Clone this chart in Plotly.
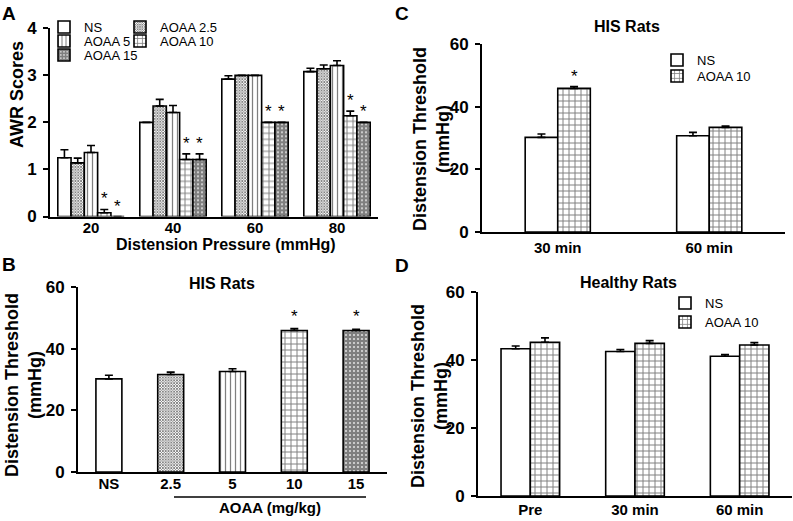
import plotly.graph_objects as go

# ---------------- data ----------------
pressures = ["20", "40", "60", "80"]
groups_a = ["NS", "AOAA 2.5", "AOAA 5", "AOAA 10", "AOAA 15"]
a_ns = [1.25, 2.00, 2.92, 3.08]
a_25 = [1.14, 2.35, 3.00, 3.14]
a_5 = [1.36, 2.21, 3.00, 3.21]
a_10 = [0.08, 1.21, 2.00, 2.14]
a_15 = [0.00, 1.21, 2.00, 2.00]
a_ns_err = [0.17, 0.00, 0.07, 0.07]
a_25_err = [0.10, 0.14, 0.00, 0.08]
a_5_err = [0.15, 0.15, 0.00, 0.10]
a_10_err = [0.07, 0.12, 0.00, 0.10]
a_15_err = [0.00, 0.12, 0.00, 0.00]
a_sig_10 = [True, True, True, True]
a_sig_15 = [True, True, True, True]

b_cats = ["NS", "2.5", "5", "10", "15"]
b_vals = [30.2, 31.6, 32.6, 45.9, 45.9]
b_err = [1.2, 0.8, 0.9, 0.6, 0.4]
b_sig = [False, False, False, True, True]

c_cats = ["30 min", "60 min"]
c_ns = [30.2, 30.7]
c_ns_err = [1.1, 1.1]
c_aoaa = [45.85, 33.4]
c_aoaa_err = [0.6, 0.4]
c_sig = [True, False]

d_cats = ["Pre", "30 min", "60 min"]
d_ns = [43.3, 42.5, 41.1]
d_ns_err = [0.8, 0.6, 0.5]
d_aoaa = [45.2, 44.9, 44.4]
d_aoaa_err = [1.3, 0.8, 0.7]

# ---------------- styles ----------------
W, H = 793, 521
FONT = "Arial, Liberation Sans, sans-serif"


def px(x):
    return x / W


def py(y):
    return 1 - y / H


PATTERNS = {
    "NS": dict(shape="", size=6, solidity=0.3),
    "AOAA 2.5": dict(shape="x", size=2, solidity=0.7),
    "AOAA 5": dict(shape="|", size=5, solidity=0.25),
    "AOAA 10": dict(shape="+", size=6, solidity=0.3),
    "AOAA 15": dict(shape="+", size=4, solidity=0.85),
}


def marker_for(name):
    p = PATTERNS[name]
    return dict(
        color="white",
        line=dict(color="black", width=1.6),
        pattern=dict(shape=p["shape"], size=p["size"], solidity=p["solidity"],
                     fgcolor="black", bgcolor="white", fillmode="overlay"),
    )


def errbar(err):
    return dict(type="data", array=err, arrayminus=[0] * len(err), symmetric=False,
                visible=True, color="black", thickness=1.6, width=4)


STAR_FONT = dict(family=FONT, size=17, color="black")

fig = go.Figure()
annotations = []

# ---------------- Panel A ----------------
gap_a = 0.19
n_a = len(groups_a)
bw_a = (1 - gap_a) / n_a
series_a = [(a_ns, a_ns_err), (a_25, a_25_err), (a_5, a_5_err), (a_10, a_10_err), (a_15, a_15_err)]
legend_pos_a = {
    "NS": ("legend", 44, 27),
    "AOAA 2.5": ("legend2", 120, 27),
    "AOAA 5": ("legend3", 44, 41),
    "AOAA 10": ("legend4", 120, 41),
    "AOAA 15": ("legend5", 44, 55),
}
for i, (name, (vals, err)) in enumerate(zip(groups_a, series_a)):
    off = -(1 - gap_a) / 2 + i * bw_a
    fig.add_trace(go.Bar(
        x=pressures, y=vals, name=name, width=bw_a, offset=off,
        marker=marker_for(name), error_y=errbar(err),
        xaxis="x", yaxis="y", legend=legend_pos_a[name][0], showlegend=True,
    ))
    sig = a_sig_10 if name == "AOAA 10" else (a_sig_15 if name == "AOAA 15" else None)
    if sig:
        for j, s in enumerate(sig):
            if s:
                annotations.append(dict(
                    x=j + off + bw_a / 2, y=vals[j] + err[j], xref="x", yref="y",
                    text="*", showarrow=False, yanchor="bottom", yshift=-1,
                    font=STAR_FONT))

# ---------------- Panel B ----------------
b_shapes = [PATTERNS[k]["shape"] for k in groups_a]
b_sizes = [PATTERNS[k]["size"] for k in groups_a]
b_sol = [PATTERNS[k]["solidity"] for k in groups_a]
fig.add_trace(go.Bar(
    x=b_cats, y=b_vals, width=0.42, offset=-0.21, showlegend=False,
    marker=dict(color="white", line=dict(color="black", width=1.6),
                pattern=dict(shape=b_shapes, size=b_sizes, solidity=b_sol,
                             fgcolor="black", bgcolor="white", fillmode="overlay")),
    error_y=errbar(b_err), xaxis="x2", yaxis="y2",
))
for j, s in enumerate(b_sig):
    if s:
        annotations.append(dict(
            x=j, y=b_vals[j] + b_err[j], xref="x2", yref="y2", text="*",
            showarrow=False, yanchor="bottom", yshift=1, font=STAR_FONT))

# ---------------- Panel C ----------------
gap_c = 0.57
bw_c = (1 - gap_c) / 2
for i, (name, vals, err, lg) in enumerate([
        ("NS", c_ns, c_ns_err, "legend6"), ("AOAA 10", c_aoaa, c_aoaa_err, "legend7")]):
    off = -(1 - gap_c) / 2 + i * bw_c
    fig.add_trace(go.Bar(
        x=c_cats, y=vals, name=name, width=bw_c, offset=off,
        marker=marker_for(name), error_y=errbar(err),
        xaxis="x3", yaxis="y3", legend=lg, showlegend=True,
    ))
    if name == "AOAA 10":
        for j, s in enumerate(c_sig):
            if s:
                annotations.append(dict(
                    x=j + off + bw_c / 2, y=vals[j] + err[j], xref="x3", yref="y3",
                    text="*", showarrow=False, yanchor="bottom", yshift=-2,
                    font=STAR_FONT))

# ---------------- Panel D ----------------
gap_d = 0.44
bw_d = (1 - gap_d) / 2
for i, (name, vals, err, lg) in enumerate([
        ("NS", d_ns, d_ns_err, "legend8"), ("AOAA 10", d_aoaa, d_aoaa_err, "legend9")]):
    off = -(1 - gap_d) / 2 + i * bw_d
    fig.add_trace(go.Bar(
        x=d_cats, y=vals, name=name, width=bw_d, offset=off,
        marker=marker_for(name), error_y=errbar(err),
        xaxis="x4", yaxis="y4", legend=lg, showlegend=True,
    ))

# ---------------- axes ----------------
tickfont = dict(family=FONT, size=17, color="black", weight="bold")
catfont = dict(family=FONT, size=15, color="black", weight="bold")


def yax(domain_px, rng, dtick, anchor):
    return dict(domain=[py(domain_px[0]), py(domain_px[1])], range=rng, dtick=dtick,
                anchor=anchor, showline=True, linecolor="black", linewidth=2,
                ticks="outside", ticklen=5, tickwidth=2, tickcolor="black",
                showgrid=False, zeroline=False, tickfont=tickfont, ticklabelstandoff=3,
                fixedrange=True)


def xax(domain_px, ncat, anchor, standoff):
    return dict(domain=[px(domain_px[0]), px(domain_px[1])], range=[-0.5, ncat - 0.5],
                type="category", anchor=anchor, showline=True, linecolor="black",
                linewidth=2, ticks="", showgrid=False, zeroline=False,
                tickfont=catfont, ticklabelstandoff=standoff, fixedrange=True)


layout = dict(
    width=W, height=H, margin=dict(l=0, r=0, t=0, b=0, autoexpand=False),
    paper_bgcolor="white", plot_bgcolor="rgba(0,0,0,0)",
    barmode="overlay", font=dict(family=FONT, color="black"),
    xaxis=xax((50, 378), 4, "y", -4), yaxis=yax((216.5, 28.3), [0, 4], 1, "x"),
    xaxis2=xax((78, 387), 5, "y2", -3), yaxis2=yax((472, 287), [0, 60], 20, "x2"),
    xaxis3=xax((482, 785), 2, "y3", 1), yaxis3=yax((232, 44), [0, 60], 20, "x3"),
    xaxis4=xax((478, 792), 3, "y4", -1), yaxis4=yax((496, 292), [0, 60], 20, "x4"),
)

legend_positions = dict(legend_pos_a)
legend_positions.update({
    "C_NS": ("legend6", 657, 60), "C_A": ("legend7", 657, 76),
    "D_NS": ("legend8", 665, 303), "D_A": ("legend9", 665, 322),
})
for key, (lg, lx, ly) in legend_positions.items():
    layout[lg] = dict(x=px(lx), y=py(ly), xanchor="left", yanchor="middle",
                      bgcolor="rgba(0,0,0,0)", borderwidth=0, itemwidth=30,
                      font=dict(family=FONT, size=13, color="black"),
                      itemclick=False, itemdoubleclick=False)

fig.update_layout(**layout)


def label(text, x, y, size, angle=0, bold=True, xanchor="center"):
    annotations.append(dict(
        text=text, x=px(x), y=py(y), xref="paper", yref="paper", showarrow=False,
        textangle=angle, xanchor=xanchor, yanchor="middle",
        font=dict(family=FONT, size=size, color="black", weight="bold" if bold else "normal")))


# panel letters
label("A", 9, 14, 19)
label("B", 9, 264, 19)
label("C", 402, 14, 19)
label("D", 402, 265, 19)
# titles
label("HIS Rats", 222, 283, 16)
label("HIS Rats", 627, 27, 16)
label("Healthy Rats", 628, 282, 16)
# axis titles
label("AWR Scores", 17, 95, 18, angle=-90)
label("Distension Pressure (mmHg)", 226, 245, 16)
for (cx, cy) in [(23, 385), (431, 139), (429, 396)]:
    label("Distension Threshold<br>(mmHg)", cx, cy, 18, angle=-90)
label("AOAA (mg/kg)", 270, 507, 15)

fig.update_layout(annotations=annotations)
fig.add_shape(type="line", xref="paper", yref="paper", x0=px(174), x1=px(366),
              y0=py(497), y1=py(497), line=dict(color="black", width=1.5))

fig.write_html("out.html", config={"displayModeBar": False},
               post_script="document.body.style.margin='0px';document.body.style.overflow='hidden';")
